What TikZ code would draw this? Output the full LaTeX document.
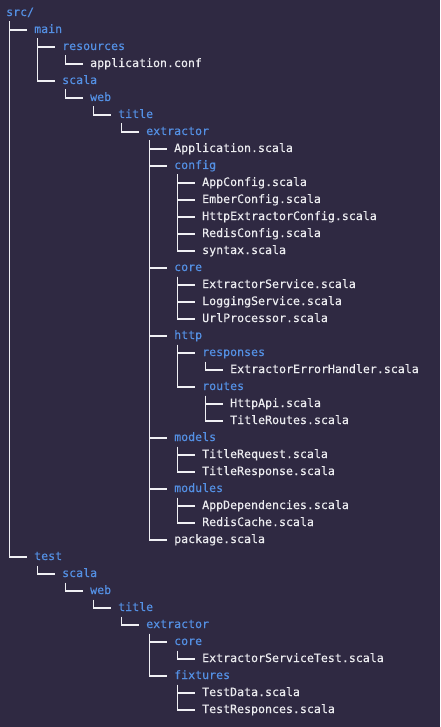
\documentclass[tikz,border=0pt]{standalone}
\usepackage{fontspec}
\setmonofont[FakeBold=0.25]{DejaVu Sans Mono}
\usepackage{xcolor}
\usepackage{tikz}
\usetikzlibrary{positioning}

\definecolor{termbg}{RGB}{47,41,66}
\definecolor{dirblue}{RGB}{84,144,228}
\definecolor{filewhite}{RGB}{236,236,240}
\definecolor{treeline}{RGB}{240,240,244}

\begin{document}
\begin{tikzpicture}[
  x=1pt, y=-1pt,
  every node/.style={font=\fontsize{11.6}{14}\selectfont\ttfamily},
  entry/.style={anchor=west, inner xsep=0pt, inner ysep=0pt,
    text height=8.5pt, text depth=2.5pt},
  folder/.style={entry, text=dirblue},
  file/.style={entry, text=filewhite},
  branch/.style={draw=treeline, line width=1.2pt}
]

\fill[termbg] (0,0) rectangle (440,727);
\useasboundingbox (0,0) rectangle (440,727);

% main sources
\node[folder] (src) at (6,13) {src/};
\node[folder] (main) at (34,30) {main};
\node[folder] (resources) at (62,47) {resources};
\node[file] (appconf) at (90,64) {application.conf};
\node[folder] (mscala) at (62,81) {scala};
\node[folder] (mweb) at (90,98) {web};
\node[folder] (mtitle) at (118,115) {title};
\node[folder] (mextractor) at (146,132) {extractor};
\node[file] (application) at (174,149) {Application.scala};
\node[folder] (config) at (174,166) {config};
\node[file] (appconfig) at (202,183) {AppConfig.scala};
\node[file] (emberconfig) at (202,200) {EmberConfig.scala};
\node[file] (httpconfig) at (202,217) {HttpExtractorConfig.scala};
\node[file] (redisconfig) at (202,234) {RedisConfig.scala};
\node[file] (syntax) at (202,251) {syntax.scala};
\node[folder] (core) at (174,268) {core};
\node[file] (extractorsvc) at (202,285) {ExtractorService.scala};
\node[file] (loggingsvc) at (202,302) {LoggingService.scala};
\node[file] (urlproc) at (202,319) {UrlProcessor.scala};
\node[folder] (http) at (174,336) {http};
\node[folder] (responses) at (202,353) {responses};
\node[file] (errhandler) at (230,370) {ExtractorErrorHandler.scala};
\node[folder] (routes) at (202,387) {routes};
\node[file] (httpapi) at (230,404) {HttpApi.scala};
\node[file] (titleroutes) at (230,421) {TitleRoutes.scala};
\node[folder] (models) at (174,438) {models};
\node[file] (titlereq) at (202,455) {TitleRequest.scala};
\node[file] (titleresp) at (202,472) {TitleResponse.scala};
\node[folder] (modules) at (174,489) {modules};
\node[file] (appdeps) at (202,506) {AppDependencies.scala};
\node[file] (rediscache) at (202,523) {RedisCache.scala};
\node[file] (package) at (174,540) {package.scala};

% test sources
\node[folder] (test) at (34,557) {test};
\node[folder] (tscala) at (62,574) {scala};
\node[folder] (tweb) at (90,591) {web};
\node[folder] (ttitle) at (118,608) {title};
\node[folder] (textractor) at (146,625) {extractor};
\node[folder] (tcore) at (174,642) {core};
\node[file] (svctest) at (202,659) {ExtractorServiceTest.scala};
\node[folder] (fixtures) at (174,676) {fixtures};
\node[file] (testdata) at (202,693) {TestData.scala};
\node[file] (testresp) at (202,710) {TestResponces.scala};

% tree branches
\draw[branch] ([shift={(3.5pt,-8.5pt)}]src.west) |- ([xshift=-7pt]main.west);
\draw[branch] ([shift={(3.5pt,-8.5pt)}]src.west) |- ([xshift=-7pt]test.west);
\draw[branch] ([shift={(3.5pt,-8.5pt)}]main.west) |- ([xshift=-7pt]resources.west);
\draw[branch] ([shift={(3.5pt,-8.5pt)}]main.west) |- ([xshift=-7pt]mscala.west);
\draw[branch] ([shift={(3.5pt,-8.5pt)}]resources.west) |- ([xshift=-7pt]appconf.west);
\draw[branch] ([shift={(3.5pt,-8.5pt)}]mscala.west) |- ([xshift=-7pt]mweb.west);
\draw[branch] ([shift={(3.5pt,-8.5pt)}]mweb.west) |- ([xshift=-7pt]mtitle.west);
\draw[branch] ([shift={(3.5pt,-8.5pt)}]mtitle.west) |- ([xshift=-7pt]mextractor.west);
\draw[branch] ([shift={(3.5pt,-8.5pt)}]mextractor.west) |- ([xshift=-7pt]application.west);
\draw[branch] ([shift={(3.5pt,-8.5pt)}]mextractor.west) |- ([xshift=-7pt]config.west);
\draw[branch] ([shift={(3.5pt,-8.5pt)}]mextractor.west) |- ([xshift=-7pt]core.west);
\draw[branch] ([shift={(3.5pt,-8.5pt)}]mextractor.west) |- ([xshift=-7pt]http.west);
\draw[branch] ([shift={(3.5pt,-8.5pt)}]mextractor.west) |- ([xshift=-7pt]models.west);
\draw[branch] ([shift={(3.5pt,-8.5pt)}]mextractor.west) |- ([xshift=-7pt]modules.west);
\draw[branch] ([shift={(3.5pt,-8.5pt)}]mextractor.west) |- ([xshift=-7pt]package.west);
\draw[branch] ([shift={(3.5pt,-8.5pt)}]config.west) |- ([xshift=-7pt]appconfig.west);
\draw[branch] ([shift={(3.5pt,-8.5pt)}]config.west) |- ([xshift=-7pt]emberconfig.west);
\draw[branch] ([shift={(3.5pt,-8.5pt)}]config.west) |- ([xshift=-7pt]httpconfig.west);
\draw[branch] ([shift={(3.5pt,-8.5pt)}]config.west) |- ([xshift=-7pt]redisconfig.west);
\draw[branch] ([shift={(3.5pt,-8.5pt)}]config.west) |- ([xshift=-7pt]syntax.west);
\draw[branch] ([shift={(3.5pt,-8.5pt)}]core.west) |- ([xshift=-7pt]extractorsvc.west);
\draw[branch] ([shift={(3.5pt,-8.5pt)}]core.west) |- ([xshift=-7pt]loggingsvc.west);
\draw[branch] ([shift={(3.5pt,-8.5pt)}]core.west) |- ([xshift=-7pt]urlproc.west);
\draw[branch] ([shift={(3.5pt,-8.5pt)}]http.west) |- ([xshift=-7pt]responses.west);
\draw[branch] ([shift={(3.5pt,-8.5pt)}]http.west) |- ([xshift=-7pt]routes.west);
\draw[branch] ([shift={(3.5pt,-8.5pt)}]responses.west) |- ([xshift=-7pt]errhandler.west);
\draw[branch] ([shift={(3.5pt,-8.5pt)}]routes.west) |- ([xshift=-7pt]httpapi.west);
\draw[branch] ([shift={(3.5pt,-8.5pt)}]routes.west) |- ([xshift=-7pt]titleroutes.west);
\draw[branch] ([shift={(3.5pt,-8.5pt)}]models.west) |- ([xshift=-7pt]titlereq.west);
\draw[branch] ([shift={(3.5pt,-8.5pt)}]models.west) |- ([xshift=-7pt]titleresp.west);
\draw[branch] ([shift={(3.5pt,-8.5pt)}]modules.west) |- ([xshift=-7pt]appdeps.west);
\draw[branch] ([shift={(3.5pt,-8.5pt)}]modules.west) |- ([xshift=-7pt]rediscache.west);
\draw[branch] ([shift={(3.5pt,-8.5pt)}]test.west) |- ([xshift=-7pt]tscala.west);
\draw[branch] ([shift={(3.5pt,-8.5pt)}]tscala.west) |- ([xshift=-7pt]tweb.west);
\draw[branch] ([shift={(3.5pt,-8.5pt)}]tweb.west) |- ([xshift=-7pt]ttitle.west);
\draw[branch] ([shift={(3.5pt,-8.5pt)}]ttitle.west) |- ([xshift=-7pt]textractor.west);
\draw[branch] ([shift={(3.5pt,-8.5pt)}]textractor.west) |- ([xshift=-7pt]tcore.west);
\draw[branch] ([shift={(3.5pt,-8.5pt)}]textractor.west) |- ([xshift=-7pt]fixtures.west);
\draw[branch] ([shift={(3.5pt,-8.5pt)}]tcore.west) |- ([xshift=-7pt]svctest.west);
\draw[branch] ([shift={(3.5pt,-8.5pt)}]fixtures.west) |- ([xshift=-7pt]testdata.west);
\draw[branch] ([shift={(3.5pt,-8.5pt)}]fixtures.west) |- ([xshift=-7pt]testresp.west);

\end{tikzpicture}
\end{document}
